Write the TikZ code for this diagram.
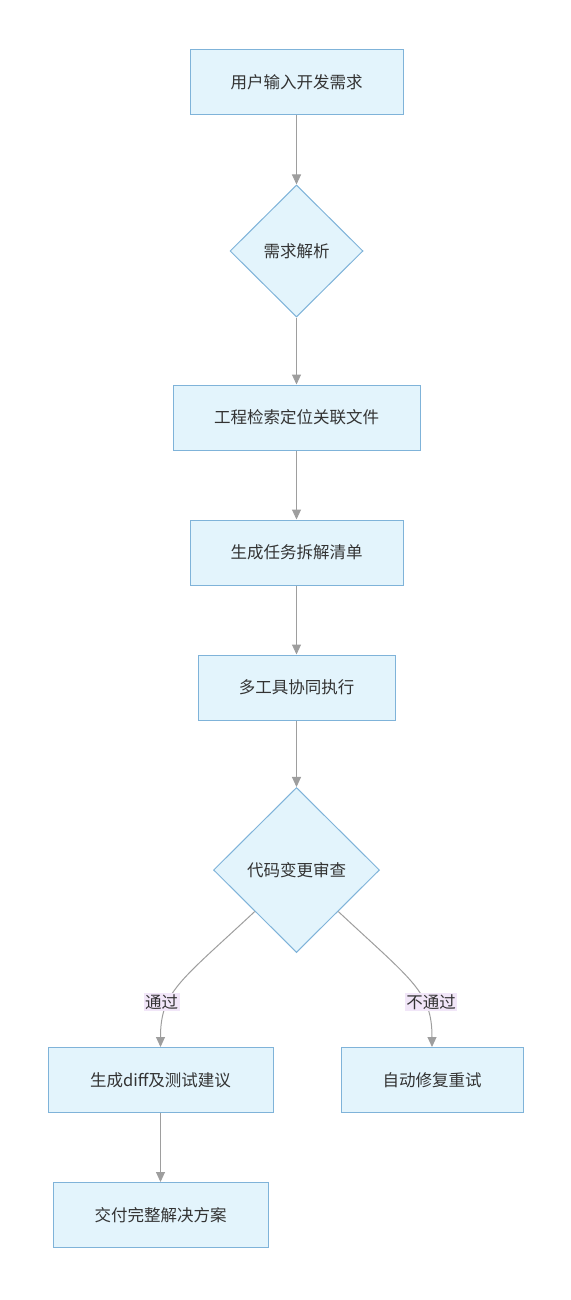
\documentclass[tikz,border=0pt]{standalone}
\usepackage{fontspec}
\setmainfont{Noto Sans CJK SC}
\usetikzlibrary{positioning, shapes.geometric, arrows.meta}
\definecolor{boxfill}{HTML}{E3F4FC}
\definecolor{boxline}{HTML}{7FB3D9}
\definecolor{flowline}{HTML}{9E9E9E}
\definecolor{lblfill}{HTML}{F1E6F8}

\begin{document}
\begin{tikzpicture}[x=1pt, y=-1pt,
		font=\fontsize{16.5}{18}\selectfont, text=black!80,
		stepbox/.style={draw=boxline, fill=boxfill, line width=1pt, inner sep=0pt, minimum height=65pt},
		check/.style={diamond, aspect=1, draw=boxline, fill=boxfill, line width=1pt, inner sep=0pt},
		flow/.style={draw=flowline, line width=1pt, -{Triangle[width=9pt, length=10pt]}},
		lbl/.style={fill=lblfill, inner sep=1.5pt}]
			\useasboundingbox (0, 0) rectangle (570, 1300);
			\node[stepbox, minimum width=213pt] (req)   at (296.5, 82.5)  {用户输入开发需求};
			\node[check, minimum width=133pt, minimum height=132pt] (ana)   at (296.5, 251)  {需求解析};
			\node[stepbox, minimum width=247pt] (find)  at (296.5, 417.5)  {工程检索定位关联文件};
			\node[stepbox, minimum width=213pt] (plan)  at (296.5, 552.5)  {生成任务拆解清单};
			\node[stepbox, minimum width=197pt] (run)   at (296.5, 687.5)  {多工具协同执行};
			\node[check, minimum width=166pt, minimum height=165pt] (rev)   at (296.5, 870)  {代码变更审查};
			\node[stepbox, minimum width=225pt] (gen)   at (160.5, 1080)  {生成diff及测试建议};
			\node[stepbox, minimum width=182pt] (fix)   at (432, 1080)  {自动修复重试};
			\node[stepbox, minimum width=215pt] (done)  at (160.5, 1215)  {交付完整解决方案};
			
			\draw[flow] (req) -- (ana);
			\draw[flow] (ana) -- (find);
			\draw[flow] (find) -- (plan);
			\draw[flow] (plan) -- (run);
			\draw[flow] (run) -- (rev);
			\draw[flow] (rev.south west) .. controls +(-75, 70) and +(0, -55) .. node[lbl, pos=0.66, xshift=-7pt] (pass) {通过} (gen.north);
			\draw[flow] (rev.south east) .. controls +(75, 70) and +(0, -55) .. node[lbl, pos=0.66, xshift=7pt] (fail) {不通过} (fix.north);
			\draw[flow] (gen) -- (done);
		\end{tikzpicture}
\end{document}
